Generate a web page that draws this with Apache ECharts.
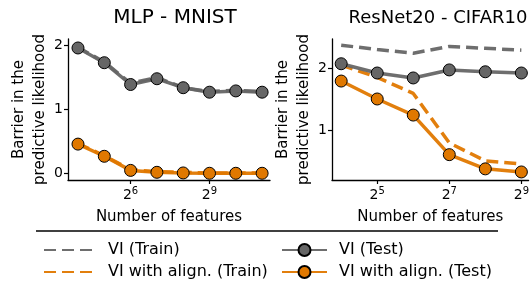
<!DOCTYPE html>
<html><head><meta charset="utf-8">
<script src="https://cdn.jsdelivr.net/npm/echarts@6/dist/echarts.min.js"></script>
<style>html,body{margin:0;padding:0;background:#fff}#c{width:532px;height:287px}</style>
</head><body><div id="c"></div>
<script>
// Number of features as powers of two (exponents)
const mlpExp = [4, 5, 6, 7, 8, 9, 10, 11];
const resExp = [4, 5, 6, 7, 8, 9];
const mlpTicksX = [6, 9];
const resTicksX = [5, 7, 9];
const mlpTicksY = [0, 1, 2];
const resTicksY = [1, 2];

const mlpViTrain = [1.97, 1.74, 1.41, 1.50, 1.34, 1.28, 1.30, 1.28];
const mlpViTest = [1.96, 1.73, 1.39, 1.48, 1.34, 1.27, 1.29, 1.27];
const mlpAlTrain = [0.47, 0.28, 0.06, 0.03, 0.02, 0.01, 0.01, 0.01];
const mlpAlTest = [0.46, 0.27, 0.05, 0.02, 0.01, 0.005, 0.005, 0.005];

const resViTrain = [2.37, 2.30, 2.24, 2.35, 2.32, 2.29];
const resViTest = [2.07, 1.92, 1.84, 1.97, 1.94, 1.92];
const resAlTrain = [2.05, 1.85, 1.59, 0.79, 0.50, 0.45];
const resAlTest = [1.79, 1.50, 1.24, 0.60, 0.37, 0.32];

const names = ['VI (Train)', 'VI (Test)', 'VI with align. (Train)', 'VI with align. (Test)'];
const GREY = '#666666', ORANGE = '#e07800';
const FONT = 'DejaVu Sans';

const pairs = (xs, ys) => xs.map((x, i) => [x, ys[i]]);

function dashed(name, idx, xs, ys, color) {
  return { name, type: 'line', xAxisIndex: idx, yAxisIndex: idx, data: pairs(xs, ys),
    symbol: 'none', lineStyle: { color, width: 3.5, type: [12, 6], opacity: 0.95 },
    itemStyle: { color }, z: 2, animation: false };
}
function solid(name, idx, xs, ys, color) {
  return { name, type: 'line', xAxisIndex: idx, yAxisIndex: idx, data: pairs(xs, ys),
    symbol: 'circle', symbolSize: 12, showAllSymbol: true,
    lineStyle: { color, width: 3.5, opacity: 0.95 },
    itemStyle: { color, borderColor: '#000', borderWidth: 1 }, z: 3, animation: false };
}

const supRich = { b: { fontSize: 14, fontFamily: FONT, color: '#000', lineHeight: 18 },
  s: { fontSize: 10, fontFamily: FONT, color: '#000', verticalAlign: 'top', lineHeight: 18, padding: [0, 0, 6, 0] } };

function xAxis(idx, min, max, ticks) {
  return { type: 'value', gridIndex: idx, min, max,
    name: 'Number of features', nameLocation: 'middle', nameGap: 30,
    nameTextStyle: { fontFamily: FONT, fontSize: 15, color: '#000' },
    axisLine: { onZero: false, lineStyle: { color: '#000', width: 1.3 } },
    axisTick: { show: true, length: 4, customValues: ticks, lineStyle: { color: '#000', width: 1.2 } },
    axisLabel: { customValues: ticks, margin: 6, formatter: v => '{b|2}{s|' + v + '}', rich: supRich },
    splitLine: { show: false } };
}
function yAxis(idx, min, max, ticks) {
  return { type: 'value', gridIndex: idx, min, max,
    name: 'Barrier in the\npredictive likelihood', nameLocation: 'middle', nameGap: 14, nameRotate: 90,
    nameTextStyle: { fontFamily: FONT, fontSize: 15, color: '#000', lineHeight: 21 },
    axisLine: { show: true, onZero: false, lineStyle: { color: '#000', width: 1.3 } },
    axisTick: { show: true, length: 4, customValues: ticks, lineStyle: { color: '#000', width: 1.2 } },
    axisLabel: { customValues: ticks, fontFamily: FONT, fontSize: 14, color: '#000', margin: 5 },
    splitLine: { show: false } };
}

const legendCommon = { orient: 'vertical', itemHeight: 15, itemGap: 6, padding: 0,
  selectedMode: false, top: 242 };

const option = {
  animation: false,
  title: [
    { text: 'MLP - MNIST', left: 170, top: 3, textAlign: 'center',
      textStyle: { fontFamily: FONT, fontSize: 20, fontWeight: 'normal', color: '#000' } },
    { text: 'ResNet20 - CIFAR10', left: 433, top: 4, textAlign: 'center',
      textStyle: { fontFamily: FONT, fontSize: 18, fontWeight: 'normal', color: '#000' } }
  ],
  grid: [
    { left: 68, top: 39, width: 202, height: 141 },
    { left: 332, top: 39, width: 200, height: 141 }
  ],
  xAxis: [xAxis(0, 3.62, 11.3, mlpTicksX), xAxis(1, 3.745, 9.2, resTicksX)],
  yAxis: [yAxis(0, -0.1, 2.1, mlpTicksY), yAxis(1, 0.19, 2.47, resTicksY)],
  legend: [
    Object.assign({}, legendCommon, { left: 43, itemWidth: 49,
      textStyle: { fontFamily: FONT, fontSize: 16, color: '#000', padding: [0, 0, 0, 10] },
      data: [
        { name: names[0], itemStyle: { opacity: 0 } },
        { name: names[2], itemStyle: { opacity: 0 } }
      ] }),
    Object.assign({}, legendCommon, { left: 281, itemWidth: 45,
      textStyle: { fontFamily: FONT, fontSize: 16, color: '#000', padding: [0, 0, 0, 7] },
      data: [names[1], names[3]] })
  ],
  graphic: [
    { type: 'line', shape: { x1: 36, y1: 231, x2: 498, y2: 231 }, style: { stroke: '#000', lineWidth: 1.3 } }
  ],
  series: [
    dashed(names[0], 0, mlpExp, mlpViTrain, GREY),
    dashed(names[2], 0, mlpExp, mlpAlTrain, ORANGE),
    solid(names[1], 0, mlpExp, mlpViTest, GREY),
    solid(names[3], 0, mlpExp, mlpAlTest, ORANGE),
    dashed(names[0], 1, resExp, resViTrain, GREY),
    dashed(names[2], 1, resExp, resAlTrain, ORANGE),
    solid(names[1], 1, resExp, resViTest, GREY),
    solid(names[3], 1, resExp, resAlTest, ORANGE)
  ]
};
const chart = echarts.init(document.getElementById('c'), null, { renderer: 'canvas' });
chart.setOption(option);
</script>
</body></html>
